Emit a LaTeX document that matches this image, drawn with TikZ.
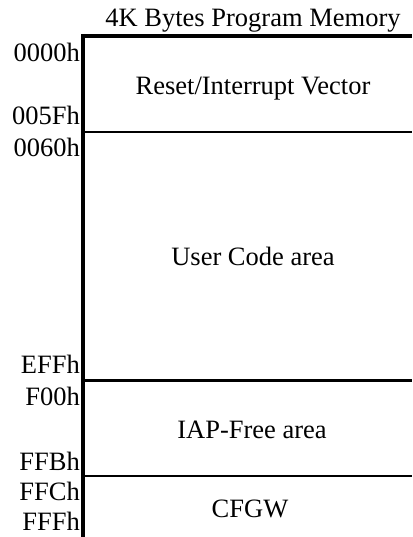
\documentclass[tikz,border=0pt]{standalone}
\usepackage{fontspec}
\setmainfont{Liberation Serif}
\begin{document}
\begin{tikzpicture}[
        x=1pt,
        y=-1pt,
        font=\fontsize{26.5}{30}\selectfont,
        addr/.style ={anchor=base east, inner sep=0pt},
        region/.style ={anchor=base, inner sep=0pt},
        border/.style ={line width=4pt},
        divider/.style ={line width=2.5pt},
    ]
    \useasboundingbox (0,0) rectangle (412,537);

    \node[region] (title) at (253,27) {4K Bytes Program Memory};

    % memory map outline
    \coordinate (topleft) at (83,34);
    \coordinate (bottomleft) at (83,537);
    \draw[border] (topleft) -- (bottomleft);
    \draw[border] (81,36) -- (412,36);
    \draw[divider] (83,132) -- (412,132);
    \draw[divider] (83,380.5) -- (412,380.5);
    \draw[divider] (83,476) -- (412,476);

    \node[region] (vector) at (253,95) {Reset/Interrupt Vector};
    \node[region] (user) at (253,265) {User Code area};
    \node[region] (iap) at (252,438) {IAP-Free area};
    \node[region] (cfgw) at (250,517) {CFGW};

    \node[addr] (a0000) at (80,62) {0000h};
    \node[addr] (a005f) at (80,125) {005Fh};
    \node[addr] (a0060) at (80,157) {0060h};
    \node[addr] (aeff) at (80,373) {EFFh};
    \node[addr] (af00) at (80,405) {F00h};
    \node[addr] (affb) at (80,470) {FFBh};
    \node[addr] (affc) at (80,500) {FFCh};
    \node[addr] (afff) at (80,530) {FFFh};

\end{tikzpicture}
\end{document}
